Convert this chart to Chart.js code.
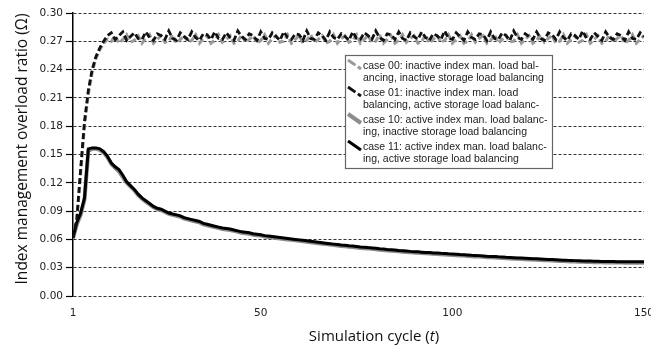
<!DOCTYPE html>
<html>
<head>
<meta charset="utf-8">
<script src="https://cdn.jsdelivr.net/npm/chart.js@4/dist/chart.umd.min.js"></script>
<style>
  html, body { margin: 0; padding: 0; background: #fff; }
  #wrap { width: 651px; height: 345px; position: relative; }
</style>
</head>
<body>
<div id="wrap"><canvas id="overloadChart"></canvas></div>
<script>
// simulation cycles 1..150
const cycles = Array.from({ length: 150 }, (_, i) => i + 1);

const xTicks = [1, 50, 100, 150];
const yTicks = [0, 0.03, 0.06, 0.09, 0.12, 0.15, 0.18, 0.21, 0.24, 0.27, 0.30];

const seriesLabels = [
    'case 00: inactive index man. load balancing, inactive storage load balancing',
    'case 01: inactive index man. load balancing, active storage load balancing',
    'case 10: active index man. load balancing, inactive storage load balancing',
    'case 11: active index man. load balancing, active storage load balancing'
];

// legend text as wrapped in the figure
const legendLines = [
    ['case 00: inactive index man. load bal-', 'ancing, inactive storage load balancing'],
    ['case 01: inactive index man. load', 'balancing, active storage load balanc-'],
    ['case 10: active index man. load balanc-', 'ing, inactive storage load balancing'],
    ['case 11: active index man. load balanc-', 'ing, active storage load balancing']
];

const case00 = [
    0.062, 0.080, 0.130, 0.180, 0.214, 0.237, 0.252, 0.261, 0.268, 0.272,
    0.270, 0.276, 0.268, 0.272, 0.277, 0.269, 0.271, 0.276, 0.268, 0.273,
    0.277, 0.268, 0.272, 0.276, 0.269, 0.270, 0.277, 0.268, 0.272, 0.276,
    0.269, 0.271, 0.277, 0.268, 0.273, 0.276, 0.268, 0.271, 0.277, 0.269,
    0.272, 0.276, 0.268, 0.270, 0.277, 0.269, 0.272, 0.276, 0.268, 0.271,
    0.277, 0.268, 0.273, 0.276, 0.269, 0.270, 0.277, 0.268, 0.272, 0.276,
    0.268, 0.271, 0.277, 0.269, 0.272, 0.276, 0.268, 0.270, 0.277, 0.268,
    0.273, 0.276, 0.269, 0.271, 0.277, 0.268, 0.272, 0.276, 0.269, 0.270,
    0.277, 0.268, 0.272, 0.276, 0.268, 0.271, 0.277, 0.269, 0.273, 0.276,
    0.268, 0.270, 0.277, 0.268, 0.272, 0.276, 0.269, 0.271, 0.277, 0.268,
    0.272, 0.276, 0.268, 0.270, 0.277, 0.269, 0.273, 0.276, 0.268, 0.271,
    0.277, 0.268, 0.272, 0.276, 0.269, 0.270, 0.277, 0.268, 0.272, 0.276,
    0.268, 0.271, 0.277, 0.269, 0.273, 0.276, 0.268, 0.270, 0.277, 0.268,
    0.272, 0.276, 0.269, 0.271, 0.277, 0.268, 0.272, 0.276, 0.268, 0.270,
    0.277, 0.269, 0.273, 0.276, 0.268, 0.271, 0.277, 0.268, 0.272, 0.276
];

const case01 = [
    0.062, 0.082, 0.135, 0.185, 0.218, 0.240, 0.254, 0.263, 0.270, 0.276,
    0.279, 0.272, 0.276, 0.280, 0.271, 0.275, 0.279, 0.273, 0.272, 0.280,
    0.274, 0.271, 0.278, 0.276, 0.272, 0.281, 0.273, 0.271, 0.279, 0.275,
    0.272, 0.280, 0.274, 0.271, 0.278, 0.277, 0.272, 0.280, 0.273, 0.272,
    0.279, 0.274, 0.271, 0.281, 0.275, 0.272, 0.278, 0.276, 0.271, 0.280,
    0.273, 0.272, 0.279, 0.275, 0.271, 0.280, 0.274, 0.272, 0.278, 0.277,
    0.271, 0.281, 0.273, 0.272, 0.279, 0.276, 0.271, 0.280, 0.274, 0.272,
    0.278, 0.275, 0.271, 0.280, 0.273, 0.272, 0.279, 0.276, 0.272, 0.281,
    0.274, 0.271, 0.278, 0.277, 0.272, 0.280, 0.273, 0.271, 0.279, 0.275,
    0.272, 0.280, 0.274, 0.271, 0.278, 0.276, 0.272, 0.281, 0.273, 0.272,
    0.279, 0.275, 0.271, 0.280, 0.274, 0.272, 0.278, 0.277, 0.271, 0.280,
    0.273, 0.272, 0.279, 0.276, 0.271, 0.281, 0.274, 0.272, 0.278, 0.275,
    0.272, 0.280, 0.273, 0.271, 0.279, 0.277, 0.272, 0.280, 0.274, 0.271,
    0.278, 0.276, 0.272, 0.281, 0.273, 0.272, 0.279, 0.275, 0.271, 0.280,
    0.274, 0.272, 0.278, 0.276, 0.271, 0.280, 0.273, 0.272, 0.279, 0.275
];

const case10 = [
    0.061, 0.076, 0.086, 0.102, 0.154, 0.156, 0.156, 0.155, 0.152, 0.147,
    0.140, 0.136, 0.132, 0.126, 0.120, 0.116, 0.112, 0.107, 0.103, 0.100,
    0.097, 0.094, 0.092, 0.091, 0.089, 0.087, 0.086, 0.085, 0.084, 0.082,
    0.081, 0.080, 0.079, 0.078, 0.076, 0.075, 0.074, 0.073, 0.072, 0.071,
    0.0705, 0.070, 0.069, 0.068, 0.067, 0.0665, 0.066, 0.065, 0.0645, 0.064,
    0.063, 0.0625, 0.062, 0.0615, 0.061, 0.0605, 0.060, 0.0595, 0.059, 0.0585,
    0.058, 0.0575, 0.057, 0.0565, 0.056, 0.0555, 0.055, 0.0545, 0.054, 0.0535,
    0.053, 0.0527, 0.0523, 0.052, 0.0515, 0.051, 0.0507, 0.0503, 0.050, 0.0495,
    0.049, 0.0487, 0.0483, 0.048, 0.0477, 0.0473, 0.047, 0.0467, 0.0463, 0.046,
    0.0458, 0.0455, 0.0452, 0.045, 0.0447, 0.0445, 0.0442, 0.044, 0.0437, 0.0435,
    0.0433, 0.043, 0.0428, 0.0425, 0.0422, 0.042, 0.0418, 0.0415, 0.0412, 0.041,
    0.0408, 0.0405, 0.0403, 0.040, 0.0398, 0.0396, 0.0394, 0.0392, 0.039, 0.0388,
    0.0386, 0.0384, 0.0382, 0.038, 0.0378, 0.0376, 0.0374, 0.0372, 0.037, 0.0368,
    0.0367, 0.0365, 0.0364, 0.0362, 0.0361, 0.036, 0.0359, 0.0358, 0.0357, 0.0356,
    0.0355, 0.0355, 0.0354, 0.0354, 0.0353, 0.0353, 0.0353, 0.0352, 0.0352, 0.0352
];

const case11 = [
    0.062, 0.078, 0.088, 0.104, 0.156, 0.157, 0.157, 0.156, 0.153, 0.148,
    0.141, 0.137, 0.134, 0.128, 0.121, 0.117, 0.113, 0.108, 0.104, 0.101,
    0.098, 0.095, 0.093, 0.092, 0.090, 0.088, 0.087, 0.086, 0.085, 0.083,
    0.082, 0.081, 0.080, 0.079, 0.077, 0.076, 0.075, 0.074, 0.073, 0.072,
    0.0715, 0.071, 0.070, 0.069, 0.068, 0.0675, 0.067, 0.066, 0.0655, 0.065,
    0.064, 0.0635, 0.063, 0.0625, 0.062, 0.0615, 0.061, 0.0605, 0.060, 0.0595,
    0.059, 0.0585, 0.058, 0.0575, 0.057, 0.0565, 0.056, 0.0555, 0.055, 0.0545,
    0.054, 0.0537, 0.0533, 0.053, 0.0525, 0.052, 0.0517, 0.0513, 0.051, 0.0505,
    0.050, 0.0497, 0.0493, 0.049, 0.0487, 0.0483, 0.048, 0.0477, 0.0473, 0.047,
    0.0468, 0.0465, 0.0462, 0.046, 0.0457, 0.0455, 0.0452, 0.045, 0.0447, 0.0445,
    0.0443, 0.044, 0.0438, 0.0435, 0.0432, 0.043, 0.0428, 0.0425, 0.0422, 0.042,
    0.0418, 0.0415, 0.0413, 0.041, 0.0408, 0.0406, 0.0404, 0.0402, 0.040, 0.0398,
    0.0396, 0.0394, 0.0392, 0.039, 0.0388, 0.0386, 0.0384, 0.0382, 0.038, 0.0378,
    0.0377, 0.0375, 0.0374, 0.0372, 0.0371, 0.037, 0.0369, 0.0368, 0.0367, 0.0366,
    0.0365, 0.0365, 0.0364, 0.0364, 0.0363, 0.0363, 0.0363, 0.0362, 0.0362, 0.0362
];

const lineStyles = [
    { color: '#9a9a9a', width: 3, dash: [6, 3], order: 1 },
    { color: '#111111', width: 2.8, dash: [6, 3], order: 0 },
    { color: '#8c8c8c', width: 4, dash: [], order: 1 },
    { color: '#000000', width: 3, dash: [], order: 0 }
];

const seriesData = [case00, case01, case10, case11];

// axis titles and boxed legend, drawn over the chart
const decorations = {
    id: 'decorations',
    afterDraw(chart) {
        const ctx = chart.ctx;
        ctx.save();
        ctx.fillStyle = '#111';

        // y title
        ctx.save();
        ctx.translate(27, 149);
        ctx.rotate(-Math.PI / 2);
        ctx.font = '15.5px "Open Sans"';
        ctx.textAlign = 'center';
        ctx.textBaseline = 'alphabetic';
        ctx.fillText('Index management overload ratio (Ω)', 0, 0);
        ctx.restore();

        // x title with italic t
        const parts = [['Simulation cycle (', 'normal'], ['t', 'italic'], [')', 'normal']];
        let total = 0;
        parts.forEach(p => {
            ctx.font = p[1] + ' 15px "Open Sans"';
            total += ctx.measureText(p[0]).width;
        });
        let x = 374 - total / 2;
        ctx.textAlign = 'left';
        parts.forEach(p => {
            ctx.font = p[1] + ' 15px "Open Sans"';
            ctx.fillText(p[0], x, 341);
            x += ctx.measureText(p[0]).width;
        });

        // legend box
        const bx = 345, by = 55, bw = 207, bh = 113;
        ctx.fillStyle = '#fff';
        ctx.fillRect(bx, by, bw, bh);
        ctx.strokeStyle = '#666';
        ctx.lineWidth = 1.2;
        ctx.strokeRect(bx + 0.5, by + 0.5, bw, bh);

        const rowY = [66, 93, 120, 147];
        ctx.font = '10.5px "Liberation Sans"';
        ctx.textBaseline = 'middle';
        legendLines.forEach((lines, i) => {
            const st = lineStyles[i];
            const y = rowY[i];
            ctx.save();
            ctx.strokeStyle = st.color;
            ctx.lineWidth = st.width;
            ctx.setLineDash(st.dash.length ? [9, 3] : []);
            ctx.beginPath();
            ctx.moveTo(348, y - 6);
            ctx.lineTo(361, y + 3);
            ctx.stroke();
            ctx.restore();
            ctx.fillStyle = '#222';
            ctx.fillText(lines[0], 363, y);
            ctx.fillText(lines[1], 363, y + 12.5);
        });
        ctx.restore();
    }
};

const chart = new Chart(document.getElementById('overloadChart'), {
    type: 'line',
    data: {
        labels: cycles,
        datasets: seriesData.map((d, i) => ({
            label: seriesLabels[i],
            data: d,
            borderColor: lineStyles[i].color,
            borderWidth: lineStyles[i].width,
            borderDash: lineStyles[i].dash,
            order: lineStyles[i].order,
            pointRadius: 0,
            tension: 0,
            fill: false
        }))
    },
    options: {
        responsive: true,
        maintainAspectRatio: false,
        animation: false,
        layout: { padding: { left: 0, top: 13, right: 7, bottom: 0 } },
        plugins: {
            legend: { display: false },
            tooltip: { enabled: false }
        },
        scales: {
            x: {
                type: 'linear',
                min: 1,
                max: 150,
                grid: { display: false, drawTicks: false },
                border: { display: false },
                ticks: {
                    padding: 11,
                    maxRotation: 0,
                    color: '#222',
                    font: { family: 'DejaVu Sans', size: 10.5 }
                },
                afterBuildTicks: scale => {
                    scale.ticks = xTicks.map(v => ({ value: v }));
                },
                afterFit: scale => {
                    scale.height = 49;
                    scale.paddingLeft = 0;
                    scale.paddingRight = 0;
                }
            },
            y: {
                min: 0,
                max: 0.30,
                grid: {
                    color: '#333',
                    lineWidth: 1,
                    tickLength: 7,
                    tickColor: '#000',
                    tickWidth: 1.2
                },
                border: { display: true, color: '#000', width: 1.5, dash: [3, 2] },
                ticks: {
                    padding: 3,
                    color: '#222',
                    font: { family: 'DejaVu Sans', size: 10.5 },
                    callback: v => v.toFixed(2)
                },
                afterBuildTicks: scale => {
                    scale.ticks = yTicks.map(v => ({ value: v }));
                },
                afterFit: scale => {
                    scale.width = 73;
                    scale.paddingTop = 0;
                    scale.paddingBottom = 0;
                }
            }
        }
    },
    plugins: [decorations]
});
</script>
</body>
</html>
